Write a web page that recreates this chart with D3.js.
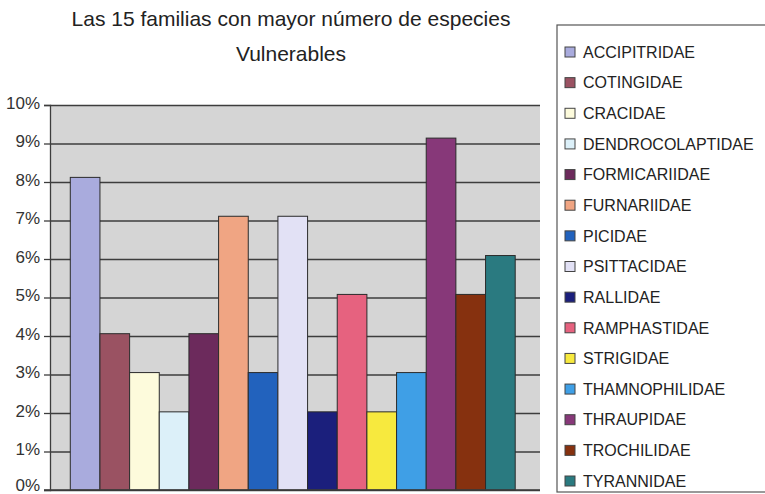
<!DOCTYPE html>
<html>
<head>
<meta charset="utf-8">
<script src="https://cdn.jsdelivr.net/npm/d3@7/dist/d3.min.js"></script>
<style>
  html, body { margin: 0; padding: 0; background: #fff; }
  svg { display: block; font-family: "Liberation Sans", Arial, sans-serif; }
</style>
</head>
<body>
<svg id="chart" width="765" height="494"></svg>
<script>
// Families (legend / bar order)
const families = [
  "ACCIPITRIDAE", "COTINGIDAE", "CRACIDAE", "DENDROCOLAPTIDAE", "FORMICARIIDAE",
  "FURNARIIDAE", "PICIDAE", "PSITTACIDAE", "RALLIDAE", "RAMPHASTIDAE",
  "STRIGIDAE", "THAMNOPHILIDAE", "THRAUPIDAE", "TROCHILIDAE", "TYRANNIDAE"
];
// Share of vulnerable species per family (%)
const shares = [8.12, 4.06, 3.05, 2.03, 4.06, 7.11, 3.05, 7.11, 2.03, 5.08, 2.03, 3.05, 9.14, 5.08, 6.09];
// Y-axis ticks (%)
const yTicks = [0, 1, 2, 3, 4, 5, 6, 7, 8, 9, 10];
// Bar fill per family
const barColors = [
  "#a9abdd", "#9a5262", "#fdfbdc", "#dcf0f9", "#6c2a5c",
  "#f0a583", "#2262bd", "#e2e1f5", "#1b1f7c", "#e6627f",
  "#f7e93e", "#3f9fe6", "#873879", "#86310f", "#2a7a80"
];
const titleLines = ["Las 15 familias con mayor número de especies", "Vulnerables"];

const svg = d3.select("#chart");

const plot = { left: 50, right: 540, top: 105, bottom: 490 };

const x = d3.scaleBand()
  .domain(families)
  .range([plot.left, plot.right])
  .paddingInner(0)
  .paddingOuter(0.76)
  .align(0.45);

const y = d3.scaleLinear()
  .domain([0, 10])
  .range([plot.bottom, plot.top]);

// Title
svg.append("g")
  .selectAll("text")
  .data(titleLines)
  .join("text")
  .attr("x", 291)
  .attr("y", (d, i) => 26 + i * 35)
  .attr("text-anchor", "middle")
  .attr("font-size", 21)
  .attr("fill", "#222")
  .text(d => d);

// Plot background
svg.append("rect")
  .attr("x", plot.left)
  .attr("y", plot.top)
  .attr("width", plot.right - plot.left)
  .attr("height", plot.bottom - plot.top)
  .attr("fill", "#d5d5d5");

// Horizontal gridlines
svg.append("g")
  .attr("transform", `translate(${plot.left},0)`)
  .call(d3.axisLeft(y).tickValues(yTicks).tickSize(-(plot.right - plot.left)).tickFormat(""))
  .call(g => g.select(".domain").remove())
  .call(g => g.selectAll("line").attr("stroke", "#3d3d3d").attr("stroke-width", 1.3));

// Bars
svg.append("g")
  .selectAll("rect")
  .data(families)
  .join("rect")
  .attr("x", d => x(d))
  .attr("y", (d, i) => y(shares[i]))
  .attr("width", x.bandwidth())
  .attr("height", (d, i) => y(0) - y(shares[i]))
  .attr("fill", (d, i) => barColors[i])
  .attr("stroke", "#2b2b2b")
  .attr("stroke-width", 1);

// Y axis (the bottom label sits a little higher so it stays inside the frame)
svg.append("g")
  .attr("transform", `translate(${plot.left},0)`)
  .call(d3.axisLeft(y).tickValues(yTicks).tickSize(6).tickPadding(4).tickFormat(d => d + "%"))
  .call(g => g.select(".domain").attr("stroke", "#3d3d3d").attr("stroke-width", 1.3))
  .call(g => g.selectAll(".tick line").attr("stroke", "#3d3d3d").attr("stroke-width", 1.3))
  .call(g => g.selectAll(".tick text")
    .attr("font-size", 17)
    .attr("dy", d => d === 0 ? "0em" : "0.2em")
    .attr("fill", "#333")
    .attr("font-family", "Liberation Sans, Arial, sans-serif"));

// X baseline
svg.append("line")
  .attr("x1", plot.left - 6)
  .attr("x2", plot.right)
  .attr("y1", y(0))
  .attr("y2", y(0))
  .attr("stroke", "#3d3d3d")
  .attr("stroke-width", 1.3);

// Legend
const legend = svg.append("g");
legend.append("rect")
  .attr("x", 557)
  .attr("y", 25)
  .attr("width", 230)
  .attr("height", 467)
  .attr("fill", "#fff")
  .attr("stroke", "#555")
  .attr("stroke-width", 1.2);

const legendY = d3.scalePoint()
  .domain(families)
  .range([52, 481]);

const items = legend.selectAll("g.item")
  .data(families)
  .join("g")
  .attr("class", "item")
  .attr("transform", d => `translate(0,${legendY(d)})`);

items.append("rect")
  .attr("x", 565)
  .attr("y", -5)
  .attr("width", 10)
  .attr("height", 10)
  .attr("fill", (d, i) => barColors[i])
  .attr("stroke", "#444")
  .attr("stroke-width", 1);

items.append("text")
  .attr("x", 583)
  .attr("y", 0)
  .attr("dy", "0.36em")
  .attr("font-size", 16)
  .attr("fill", "#222")
  .text(d => d);
</script>
</body>
</html>
